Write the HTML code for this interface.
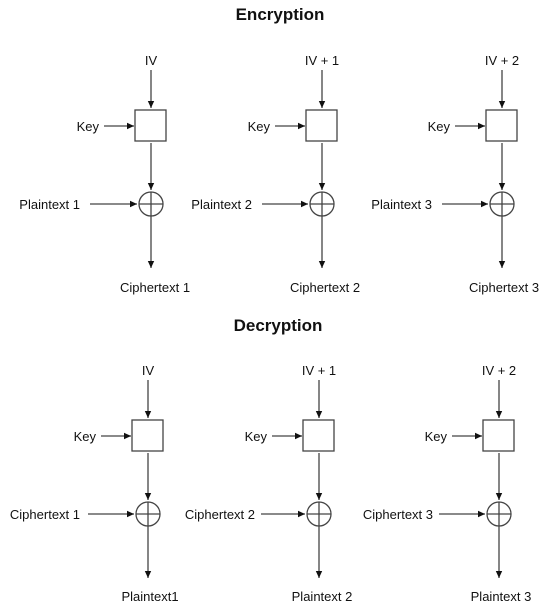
<!DOCTYPE html>
<html><head><meta charset="utf-8"><style>
html,body{margin:0;padding:0;background:#fff;}
svg{display:block;}
text{font-family:"Liberation Sans",Arial,sans-serif;font-size:13px;fill:#111;}
.t{font-size:17px;font-weight:bold;}
line,rect,circle{stroke:#444;stroke-width:1.3;fill:none;}
</style></head><body>
<svg width="550" height="605" viewBox="0 0 550 605" xmlns="http://www.w3.org/2000/svg">
<defs>
<marker id="a" markerWidth="8" markerHeight="8" refX="7" refY="4" orient="auto" markerUnits="userSpaceOnUse">
<path d="M0,0.8 L7,4 L0,7.2 Z" fill="#111"/></marker>
<g id="blk">
<line x1="0" y1="70" x2="0" y2="108" marker-end="url(#a)"/>
<rect x="-16" y="110" width="31" height="31"/>
<line x1="-47" y1="126" x2="-17" y2="126" marker-end="url(#a)"/>
<line x1="0" y1="143" x2="0" y2="190" marker-end="url(#a)"/>
<circle cx="0" cy="204" r="12"/>
<line x1="-12" y1="204" x2="12" y2="204"/>
<line x1="0" y1="192" x2="0" y2="216"/>
<line x1="0" y1="216" x2="0" y2="268" marker-end="url(#a)"/>
</g>
</defs>
<text class="t" x="280" y="20" text-anchor="middle">Encryption</text>
<text class="t" x="278" y="331" text-anchor="middle">Decryption</text>

<use href="#blk" x="151" y="0"/>
<use href="#blk" x="322" y="0"/>
<use href="#blk" x="502" y="0"/>
<use href="#blk" x="148" y="310"/>
<use href="#blk" x="319" y="310"/>
<use href="#blk" x="499" y="310"/>

<text x="99" y="131" text-anchor="end">Key</text>
<text x="270" y="131" text-anchor="end">Key</text>
<text x="450" y="131" text-anchor="end">Key</text>
<text x="96" y="441" text-anchor="end">Key</text>
<text x="267" y="441" text-anchor="end">Key</text>
<text x="447" y="441" text-anchor="end">Key</text>

<text x="151" y="65" text-anchor="middle">IV</text>
<text x="322" y="65" text-anchor="middle">IV + 1</text>
<text x="502" y="65" text-anchor="middle">IV + 2</text>
<text x="148" y="375" text-anchor="middle">IV</text>
<text x="319" y="375" text-anchor="middle">IV + 1</text>
<text x="499" y="375" text-anchor="middle">IV + 2</text>

<text x="80" y="209" text-anchor="end">Plaintext 1</text>
<line x1="90" y1="204" x2="137" y2="204" marker-end="url(#a)"/>
<text x="252" y="209" text-anchor="end">Plaintext 2</text>
<line x1="262" y1="204" x2="308" y2="204" marker-end="url(#a)"/>
<text x="432" y="209" text-anchor="end">Plaintext 3</text>
<line x1="442" y1="204" x2="488" y2="204" marker-end="url(#a)"/>

<text x="80" y="519" text-anchor="end">Ciphertext 1</text>
<line x1="88" y1="514" x2="134" y2="514" marker-end="url(#a)"/>
<text x="255" y="519" text-anchor="end">Ciphertext 2</text>
<line x1="261" y1="514" x2="305" y2="514" marker-end="url(#a)"/>
<text x="433" y="519" text-anchor="end">Ciphertext 3</text>
<line x1="439" y1="514" x2="485" y2="514" marker-end="url(#a)"/>

<text x="155" y="292" text-anchor="middle">Ciphertext 1</text>
<text x="325" y="292" text-anchor="middle">Ciphertext 2</text>
<text x="504" y="292" text-anchor="middle">Ciphertext 3</text>
<text x="150" y="601" text-anchor="middle">Plaintext1</text>
<text x="322" y="601" text-anchor="middle">Plaintext 2</text>
<text x="501" y="601" text-anchor="middle">Plaintext 3</text>
</svg>
</body></html>
